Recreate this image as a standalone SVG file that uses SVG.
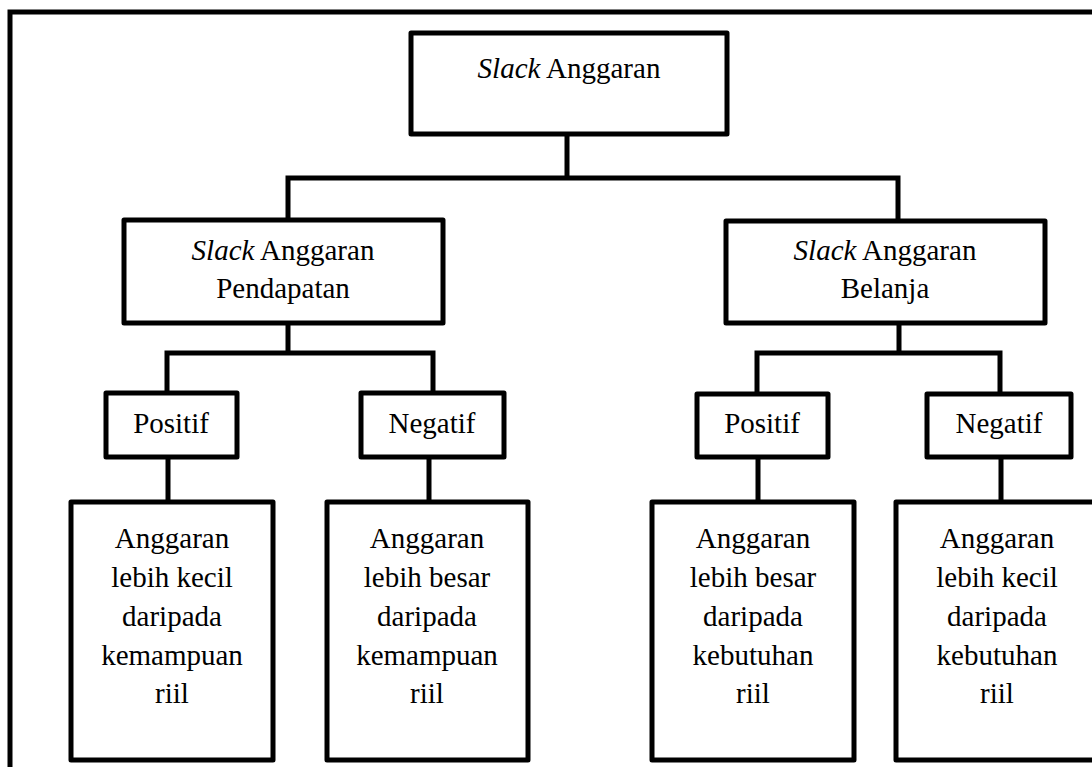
<svg xmlns="http://www.w3.org/2000/svg" width="1092" height="767" viewBox="0 0 1092 767">
<style>
.box{fill:#fff;stroke:#000;stroke-width:5;stroke-linejoin:round}
.frame{fill:none;stroke:#000;stroke-width:5}
.con{fill:none;stroke:#000;stroke-width:5;stroke-linejoin:miter}
text{font-family:"Liberation Serif","Times New Roman",serif;font-size:29px;fill:#000;text-anchor:middle}
.it{font-style:italic}
</style>
<rect width="1092" height="767" fill="#fff"/>
<rect class="frame" x="10" y="12" width="1100" height="800"/>
<g id="connectors">
<path class="con" d="M567,136 V178 M288,220 V178 H898 V220"/>
<path class="con" d="M288,323 V353 M167,393 V353 H433 V393"/>
<path class="con" d="M899,323 V353 M757,394 V353 H1000 V394"/>
<path class="con" d="M168,457 V502 M429,457 V502 M758,457 V502 M1001,457 V502"/>
</g>
<g id="root">
<rect class="box" x="411" y="33" width="316" height="101"/>
<text x="569" y="78"><tspan class="it">Slack</tspan> Anggaran</text>
</g>
<g id="pendapatan">
<rect class="box" x="124" y="220" width="319" height="103"/>
<text x="283" y="260"><tspan class="it">Slack</tspan> Anggaran</text>
<text x="283" y="298">Pendapatan</text>
</g>
<g id="belanja">
<rect class="box" x="726" y="221" width="319" height="102"/>
<text x="885" y="260"><tspan class="it">Slack</tspan> Anggaran</text>
<text x="885" y="298">Belanja</text>
</g>
<g id="positif-pendapatan">
<rect class="box" x="106" y="393" width="131" height="64"/>
<text x="171" y="433">Positif</text>
</g>
<g id="negatif-pendapatan">
<rect class="box" x="361" y="393" width="143" height="64"/>
<text x="432" y="433">Negatif</text>
</g>
<g id="positif-belanja">
<rect class="box" x="697" y="394" width="131" height="63"/>
<text x="762" y="433">Positif</text>
</g>
<g id="negatif-belanja">
<rect class="box" x="927" y="394" width="144" height="63"/>
<text x="999" y="433">Negatif</text>
</g>
<g id="hasil-1">
<rect class="box" x="71" y="502" width="202" height="258"/>
<text x="172" y="548">Anggaran</text>
<text x="172" y="587">lebih kecil</text>
<text x="172" y="626">daripada</text>
<text x="172" y="665">kemampuan</text>
<text x="172" y="703">riil</text>
</g>
<g id="hasil-2">
<rect class="box" x="327" y="502" width="201" height="258"/>
<text x="427" y="548">Anggaran</text>
<text x="427" y="587">lebih besar</text>
<text x="427" y="626">daripada</text>
<text x="427" y="665">kemampuan</text>
<text x="427" y="703">riil</text>
</g>
<g id="hasil-3">
<rect class="box" x="652" y="502" width="202" height="258"/>
<text x="753" y="548">Anggaran</text>
<text x="753" y="587">lebih besar</text>
<text x="753" y="626">daripada</text>
<text x="753" y="665">kebutuhan</text>
<text x="753" y="703">riil</text>
</g>
<g id="hasil-4">
<rect class="box" x="896" y="502" width="204" height="258"/>
<text x="997" y="548">Anggaran</text>
<text x="997" y="587">lebih kecil</text>
<text x="997" y="626">daripada</text>
<text x="997" y="665">kebutuhan</text>
<text x="997" y="703">riil</text>
</g>
</svg>
